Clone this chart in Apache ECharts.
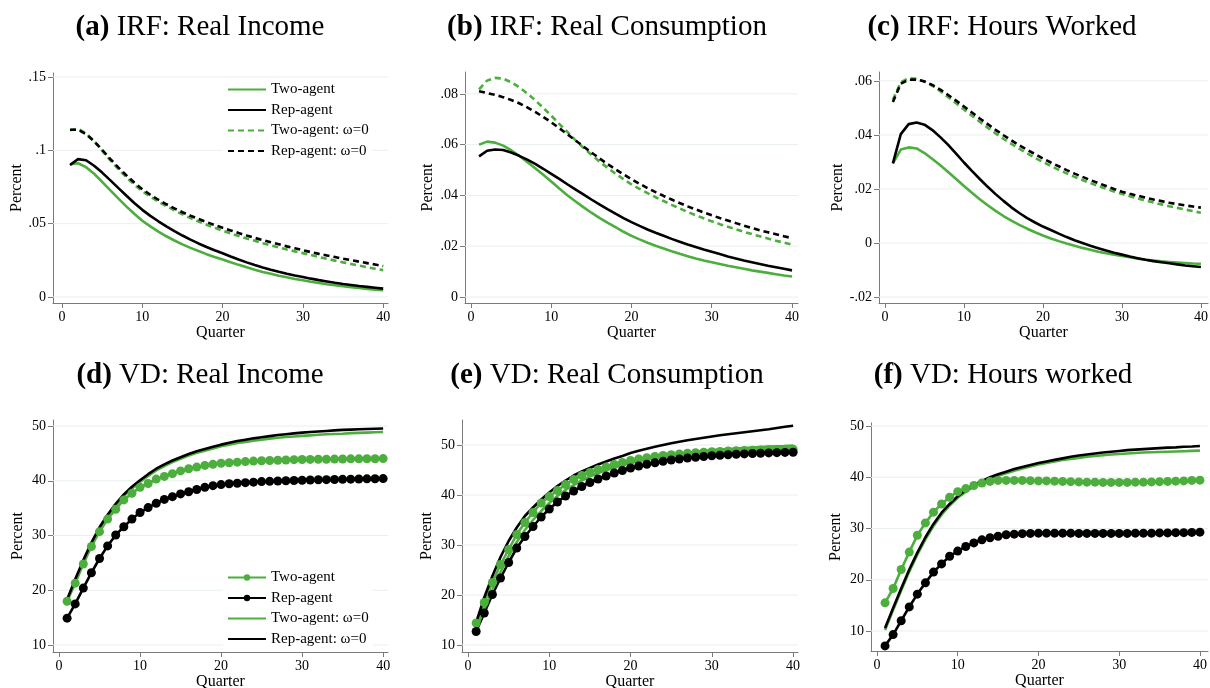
<!DOCTYPE html>
<html><head><meta charset="utf-8">
<script src="https://cdn.jsdelivr.net/npm/echarts@6/dist/echarts.min.js"></script>
<style>html,body{margin:0;padding:0;background:#fff}#c{width:1210px;height:688px}</style>
</head><body><div id="c"></div>
<script>
const quarters = [1,2,3,4,5,6,7,8,9,10,11,12,13,14,15,16,17,18,19,20,21,22,23,24,25,26,27,28,29,30,31,32,33,34,35,36,37,38,39,40];
const quarterTicks = [0,10,20,30,40];
const irfIncomeTicks = [0,0.05,0.1,0.15];
const irfConsTicks = [0,0.02,0.04,0.06,0.08];
const irfHoursTicks = [-0.02,0,0.02,0.04,0.06];
const vdTicks = [10,20,30,40,50];
const legendNames = ['Two-agent','Rep-agent','Two-agent: ω=0','Rep-agent: ω=0'];

// (a) IRF Real Income
const irfIncomeTwo = [.0905,.0912,.0885,.0840,.0785,.0728,.0672,.0618,.0567,.0520,.0481,.0446,.0414,.0385,.0359,.0335,.0313,.0292,.0273,.0256,.0237,.0219,.0202,.0186,.0171,.0158,.0145,.0134,.0123,.0114,.0104,.0095,.0087,.0080,.0073,.0067,.0061,.0055,.0050,.0046];
const irfIncomeRep = [.0900,.0940,.0932,.0895,.0848,.0797,.0744,.0692,.0641,.0594,.0553,.0516,.0481,.0449,.0419,.0391,.0365,.0341,.0319,.0298,.0276,.0255,.0236,.0218,.0201,.0186,.0172,.0159,.0147,.0136,.0125,.0115,.0106,.0097,.0089,.0082,.0075,.0069,.0063,.0057];
const irfIncomeTwoW0 = [.1136,.1148,.1115,.1062,.0998,.0933,.0873,.0817,.0766,.0722,.0684,.0650,.0619,.0590,.0563,.0538,.0515,.0493,.0472,.0452,.0434,.0416,.0399,.0383,.0367,.0352,.0338,.0324,.0311,.0299,.0286,.0273,.0260,.0248,.0236,.0225,.0214,.0203,.0193,.0183];
const irfIncomeRepW0 = [.1140,.1140,.1110,.1062,.1003,.0942,.0884,.0830,.0780,.0735,.0697,.0663,.0632,.0604,.0578,.0554,.0532,.0511,.0491,.0472,.0454,.0436,.0419,.0403,.0388,.0373,.0359,.0345,.0332,.0319,.0306,.0294,.0283,.0272,.0261,.0251,.0241,.0231,.0221,.0211];
// (b) IRF Real Consumption
const irfConsTwo = [.0600,.0612,.0608,.0596,.0578,.0556,.0532,.0507,.0481,.0455,.0427,.0401,.0377,.0354,.0332,.0312,.0293,.0275,.0257,.0241,.0227,.0214,.0202,.0191,.0180,.0170,.0161,.0152,.0144,.0137,.0130,.0123,.0117,.0111,.0105,.0100,.0095,.0090,.0085,.0081];
const irfConsRep = [.0554,.0576,.0581,.0579,.0569,.0556,.0541,.0524,.0505,.0485,.0465,.0444,.0424,.0404,.0384,.0365,.0346,.0328,.0311,.0295,.0280,.0266,.0253,.0241,.0229,.0218,.0207,.0197,.0187,.0178,.0169,.0160,.0152,.0144,.0137,.0130,.0123,.0117,.0111,.0105];
const irfConsTwoW0 = [.0818,.0852,.0863,.0860,.0846,.0826,.0802,.0775,.0745,.0714,.0682,.0650,.0618,.0588,.0560,.0534,.0509,.0486,.0464,.0443,.0426,.0409,.0393,.0378,.0363,.0349,.0335,.0322,.0310,.0298,.0287,.0277,.0267,.0257,.0248,.0239,.0230,.0222,.0214,.0206];
const irfConsRepW0 = [.0810,.0803,.0796,.0787,.0776,.0763,.0747,.0729,.0709,.0688,.0665,.0641,.0617,.0593,.0569,.0546,.0524,.0503,.0483,.0464,.0446,.0429,.0413,.0398,.0384,.0370,.0357,.0345,.0333,.0322,.0311,.0301,.0291,.0281,.0272,.0263,.0255,.0247,.0239,.0232];
// (c) IRF Hours Worked
const irfHoursTwo = [.0295,.0346,.0354,.0350,.0333,.0311,.0288,.0263,.0237,.0211,.0186,.0162,.0140,.0119,.0100,.0083,.0067,.0053,.0040,.0028,.0017,.0007,-.0002,-.0010,-.0018,-.0025,-.0032,-.0038,-.0043,-.0048,-.0053,-.0058,-.0062,-.0065,-.0068,-.0070,-.0072,-.0074,-.0076,-.0077];
const irfHoursRep = [.0295,.0403,.0440,.0446,.0438,.0418,.0392,.0363,.0331,.0298,.0267,.0237,.0208,.0181,.0156,.0132,.0111,.0092,.0076,.0061,.0048,.0035,.0022,.0010,.0000,-.0010,-.0019,-.0028,-.0036,-.0043,-.0050,-.0056,-.0062,-.0067,-.0071,-.0075,-.0079,-.0083,-.0086,-.0089];
const irfHoursTwoW0 = [.0530,.0595,.0610,.0608,.0598,.0582,.0562,.0540,.0517,.0494,.0471,.0449,.0427,.0406,.0386,.0367,.0349,.0332,.0315,.0300,.0285,.0271,.0258,.0245,.0233,.0222,.0211,.0201,.0191,.0182,.0173,.0165,.0157,.0150,.0143,.0136,.0130,.0124,.0118,.0112];
const irfHoursRepW0 = [.0522,.0590,.0604,.0605,.0598,.0585,.0568,.0548,.0527,.0505,.0483,.0461,.0440,.0419,.0399,.0380,.0362,.0345,.0329,.0313,.0298,.0284,.0270,.0257,.0245,.0233,.0222,.0211,.0200,.0190,.0182,.0175,.0168,.0161,.0155,.0149,.0144,.0139,.0135,.0131];
// (d) VD Real Income
const vdIncomeTwo = [18.0,21.3,24.8,28.0,30.7,33.0,34.8,36.5,37.7,38.8,39.5,40.3,40.8,41.3,41.8,42.2,42.5,42.8,43.0,43.2,43.3,43.4,43.5,43.6,43.65,43.7,43.75,43.8,43.85,43.88,43.9,43.92,43.94,43.96,43.98,44.0,44.0,44.02,44.03,44.05];
const vdIncomeRep = [14.9,17.5,20.4,23.2,25.8,28.1,30.1,31.6,33.0,34.2,35.1,35.9,36.6,37.1,37.6,38.0,38.4,38.8,39.1,39.3,39.45,39.55,39.65,39.75,39.85,39.9,39.95,40.0,40.05,40.1,40.15,40.18,40.2,40.23,40.26,40.29,40.32,40.35,40.37,40.4];
const vdIncomeTwoW0 = [18.1,21.7,25.1,28.3,31.1,33.5,35.5,37.2,38.6,39.8,40.9,41.9,42.7,43.4,44.0,44.6,45.1,45.5,45.9,46.3,46.6,46.9,47.1,47.3,47.5,47.7,47.85,48.0,48.1,48.2,48.3,48.4,48.5,48.55,48.6,48.7,48.75,48.8,48.85,48.9];
const vdIncomeRepW0 = [18.3,22.0,25.5,28.7,31.5,33.8,35.8,37.5,38.9,40.1,41.2,42.2,43.0,43.7,44.3,44.9,45.4,45.8,46.2,46.6,46.95,47.25,47.5,47.75,47.95,48.15,48.35,48.5,48.65,48.8,48.9,49.0,49.1,49.2,49.3,49.35,49.4,49.45,49.5,49.55];
// (e) VD Real Consumption
const vdConsTwo = [14.4,18.5,22.5,26.1,29.1,32.1,34.5,36.5,38.4,39.7,40.9,42.1,43.1,43.9,44.5,45.1,45.6,46.1,46.5,46.9,47.2,47.45,47.7,47.9,48.05,48.2,48.35,48.45,48.55,48.65,48.72,48.8,48.86,48.92,48.97,49.02,49.06,49.1,49.13,49.16];
const vdConsRep = [12.7,16.4,20.1,23.4,26.5,29.4,31.7,33.7,35.6,37.2,38.6,39.8,40.8,41.7,42.5,43.2,43.8,44.4,44.9,45.4,45.8,46.15,46.45,46.75,47.0,47.2,47.4,47.55,47.7,47.85,47.95,48.05,48.15,48.22,48.3,48.36,48.42,48.47,48.52,48.55];
const vdConsTwoW0 = [13.1,17.2,21.0,24.6,27.8,30.6,33.0,35.0,36.8,38.4,39.8,41.0,42.0,42.9,43.7,44.4,45.0,45.5,46.0,46.4,46.8,47.1,47.4,47.7,47.95,48.2,48.4,48.6,48.8,48.95,49.1,49.2,49.3,49.4,49.5,49.6,49.7,49.75,49.8,49.9];
const vdConsRepW0 = [14.5,19.5,23.8,27.6,30.8,33.5,35.8,37.5,39.1,40.5,41.8,42.9,43.9,44.7,45.4,46.1,46.7,47.3,47.8,48.4,48.85,49.25,49.65,50.0,50.35,50.65,50.95,51.2,51.45,51.7,51.95,52.15,52.35,52.55,52.75,52.95,53.15,53.4,53.65,53.85];
// (f) VD Hours worked
const vdHoursTwo = [15.5,18.3,22.0,25.4,28.7,31.1,33.2,34.8,36.1,37.2,37.8,38.4,38.9,39.2,39.4,39.4,39.4,39.4,39.35,39.3,39.3,39.25,39.2,39.15,39.1,39.05,39.05,39.0,39.0,39.0,39.0,39.05,39.05,39.1,39.15,39.2,39.25,39.3,39.4,39.45];
const vdHoursRep = [7.1,9.3,12.0,14.7,17.2,19.4,21.5,23.1,24.6,25.6,26.5,27.2,27.8,28.2,28.5,28.8,28.9,29.0,29.05,29.1,29.1,29.1,29.1,29.1,29.05,29.05,29.05,29.05,29.05,29.05,29.05,29.1,29.1,29.1,29.15,29.15,29.2,29.2,29.25,29.3];
const vdHoursTwoW0 = [10.2,14.1,17.9,21.6,24.9,27.9,30.5,32.7,34.5,36.0,37.2,38.2,39.0,39.7,40.3,40.8,41.3,41.7,42.1,42.5,42.8,43.1,43.4,43.6,43.8,44.0,44.15,44.3,44.45,44.55,44.65,44.75,44.85,44.9,44.95,45.0,45.05,45.1,45.15,45.2];
const vdHoursRepW0 = [10.6,14.5,18.3,22.0,25.3,28.3,30.9,33.1,34.8,36.3,37.5,38.5,39.3,40.0,40.6,41.1,41.6,42.0,42.4,42.8,43.1,43.4,43.7,44.0,44.25,44.45,44.65,44.85,45.0,45.15,45.3,45.4,45.5,45.6,45.7,45.8,45.85,45.95,46.0,46.1];

const GREEN = '#4cae3c';
const BLACK = '#000000';
const FONT = '"Liberation Serif","Times New Roman",serif';
const TFONT = '"Liberation Serif","Times New Roman",serif';
const AXIS = '#7a7a7a';
const GRIDC = '#e9efef';

const panels = [
  {tag:'(a)', rest:' IRF: Real Income', cx:200, ty:13, grid:{left:53,top:73,width:335,height:230}, x:[-1.12,40.6], y:[-0.0041,0.1527], ticks:irfIncomeTicks, nameGap:27, kind:'irf', pre:'',
   data:[irfIncomeTwo, irfIncomeRep, irfIncomeTwoW0, irfIncomeRepW0]},
  {tag:'(b)', rest:' IRF: Real Consumption', cx:607, ty:13, grid:{left:465,top:72,width:333,height:231}, x:[-0.75,40.75], y:[-0.00235,0.0886], ticks:irfConsTicks, nameGap:29, kind:'irf', pre:'b:',
   data:[irfConsTwo, irfConsRep, irfConsTwoW0, irfConsRepW0]},
  {tag:'(c)', rest:' IRF: Hours Worked', cx:1002, ty:13, grid:{left:879,top:72,width:329,height:231}, x:[-0.76,40.9], y:[-0.0222,0.0633], ticks:irfHoursTicks, nameGap:33, kind:'irf', pre:'c:',
   data:[irfHoursTwo, irfHoursRep, irfHoursTwoW0, irfHoursRepW0]},
  {tag:'(d)', rest:' VD: Real Income', cx:200, ty:361, grid:{left:53,top:420,width:335,height:232}, x:[-0.74,40.6], y:[8.72,51.1], ticks:vdTicks, nameGap:27, kind:'vd', pre:'d:',
   data:[vdIncomeTwo, vdIncomeRep, vdIncomeTwoW0, vdIncomeRepW0]},
  {tag:'(e)', rest:' VD: Real Consumption', cx:607, ty:361, grid:{left:462,top:420,width:336,height:232}, x:[-0.74,40.6], y:[8.6,55.0], ticks:vdTicks, nameGap:27, kind:'vd', pre:'e:',
   data:[vdConsTwo, vdConsRep, vdConsTwoW0, vdConsRepW0]},
  {tag:'(f)', rest:' VD: Hours worked', cx:1003, ty:361, grid:{left:871,top:423,width:337,height:228}, x:[-0.74,41.0], y:[6.1,50.6], ticks:vdTicks, nameGap:27, kind:'vd', pre:'f:',
   data:[vdHoursTwo, vdHoursRep, vdHoursTwoW0, vdHoursRepW0]}
];

function fmt(v){
  const s = String(+(+v).toFixed(4));
  return s.replace(/^(-?)0\./, '$1.');
}

const grids = [], xAxes = [], yAxes = [], series = [], titles = [];
panels.forEach((p, i) => {
  grids.push(Object.assign({outerBoundsMode:'none', containLabel:false}, p.grid));
  xAxes.push({type:'value', gridIndex:i, min:p.x[0], max:p.x[1],
    axisLine:{show:true, onZero:false, lineStyle:{color:AXIS, width:1}},
    axisTick:{show:true, length:5, customValues:quarterTicks, lineStyle:{color:AXIS}},
    axisLabel:{customValues:quarterTicks, fontFamily:FONT, fontSize:14, color:'#000', margin:7},
    splitLine:{show:false},
    name:'Quarter', nameLocation:'middle', nameGap:21,
    nameTextStyle:{fontFamily:FONT, fontSize:16, color:'#000'}});
  yAxes.push({type:'value', gridIndex:i, min:p.y[0], max:p.y[1],
    axisLine:{show:true, onZero:false, lineStyle:{color:AXIS, width:1}},
    axisTick:{show:true, length:5, customValues:p.ticks, lineStyle:{color:AXIS}},
    axisLabel:{customValues:p.ticks, fontFamily:FONT, fontSize:14, color:'#000', margin:7, formatter:fmt},
    splitLine:{show:false},
    name:'Percent', nameLocation:'middle', nameGap:p.nameGap, nameRotate:90,
    nameTextStyle:{fontFamily:FONT, fontSize:16, color:'#000'}});
  p.ticks.forEach(t => {
    series.push({type:'line', xAxisIndex:i, yAxisIndex:i, silent:true, z:1, symbol:'none',
      data:[[p.x[0], t],[p.x[1], t]], lineStyle:{color:GRIDC, width:1}});
  });
  const colors = [GREEN, BLACK, GREEN, BLACK];
  p.data.forEach((arr, k) => {
    const s = {type:'line', name:p.pre + legendNames[k], xAxisIndex:i, yAxisIndex:i, z:3,
      data: quarters.map((q, j) => [q, arr[j]]),
      lineStyle:{color:colors[k], width:2.6}, itemStyle:{color:colors[k]}, symbol:'none'};
    if (p.kind === 'irf' && k >= 2) s.lineStyle.type = [6,4];
    if (p.kind === 'vd' && k < 2) { s.symbol = 'circle'; s.symbolSize = 9; s.showSymbol = true; }
    series.push(s);
  });
  titles.push({text:'{b|' + p.tag + '}' + p.rest, left:p.cx, top:p.ty, textAlign:'center', padding:0,
    textStyle:{fontFamily:TFONT, fontSize:29, fontWeight:'normal', color:'#000',
      rich:{b:{fontFamily:TFONT, fontSize:29, fontWeight:'bold', color:'#000'}}}});
});

const legendCommon = {orient:'vertical', itemWidth:38, itemHeight:8, itemGap:5.5, selectedMode:false,
  backgroundColor:'#fff', padding:[3,4,3,4], borderWidth:0,
  textStyle:{fontFamily:FONT, fontSize:15, color:'#000', lineHeight:15}};

const option = {
  animation:false,
  backgroundColor:'#fff',
  title:titles,
  grid:grids, xAxis:xAxes, yAxis:yAxes, series:series,
  legend:[
    Object.assign({}, legendCommon, {data:legendNames.map(n => ({name:n, itemStyle:{opacity:0}})), left:223, top:79}),
    Object.assign({}, legendCommon, {data:legendNames.map((n, k) => k < 2 ? {name:'d:' + n} : {name:'d:' + n, itemStyle:{opacity:0}}),
      left:223, top:567, formatter: n => n.replace(/^d:/, '')})
  ]
};
const chart = echarts.init(document.getElementById('c'), null, {renderer:'canvas'});
chart.setOption(option);
</script></body></html>
